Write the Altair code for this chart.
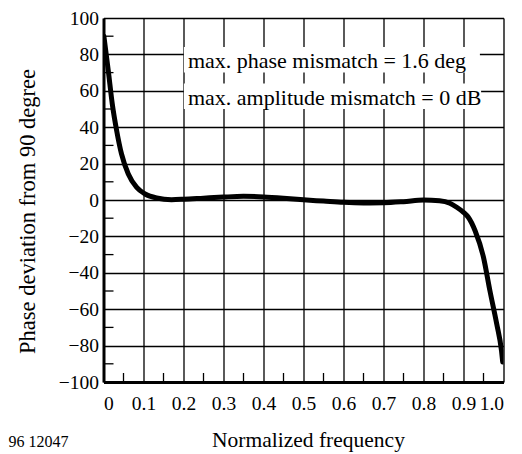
import altair as alt
import pandas as pd

# ---- data ----
freq = [0.001, 0.012, 0.022, 0.033, 0.045, 0.062, 0.083, 0.104, 0.133, 0.17,
        0.2, 0.25, 0.3, 0.35, 0.4, 0.45, 0.5, 0.55, 0.6, 0.65, 0.7, 0.75,
        0.8, 0.84, 0.866, 0.883, 0.9, 0.912, 0.929, 0.95, 0.966, 0.983,
        0.995, 0.998]
phase = [90, 71, 52.7, 38, 25.3, 14.3, 6.9, 3.3, 1.1, 0.2,
         0.4, 1.0, 1.6, 2.0, 1.7, 1.0, 0.1, -0.6, -1.3, -1.6, -1.5, -0.9,
         0.0, -0.4, -1.8, -4.0, -6.8, -9.5, -16.9, -31.5, -49.8, -68.0,
         -82.8, -89.0]

x_ticks = [0, 0.1, 0.2, 0.3, 0.4, 0.5, 0.6, 0.7, 0.8, 0.9, 1.0]
y_ticks = [-100, -80, -60, -40, -20, 0, 20, 40, 60, 80, 100]
x_minor = [0.05, 0.15, 0.25, 0.35, 0.45, 0.55, 0.65, 0.75, 0.85, 0.95]
y_minor = [-90, -70, -50, -30, -10, 10, 30, 50, 70, 90]

notes = ["max. phase mismatch = 1.6 deg", "max. amplitude mismatch = 0 dB"]
note_y = [76.5, 56.0]
box_x = [0.201, 0.201]
box_x2 = [0.941, 0.944]
box_y = [84.0, 64.0]
box_y2 = [70.0, 50.0]

x_title = "Normalized frequency"
y_title = "Phase deviation from 90 degree"
figure_id = "96 12047"

FONT = "Liberation Serif, Times New Roman, serif"
W, H = 400, 364

curve = pd.DataFrame({"f": freq, "p": phase})
xminor_df = pd.DataFrame({"f": x_minor})
yminor_df = pd.DataFrame({"p": y_minor})
notes_df = pd.DataFrame({"t": notes, "p": note_y, "x": box_x, "x2": box_x2,
                         "y": box_y, "y2": box_y2, "tx": [0.211, 0.211]})

xscale = alt.Scale(domain=[0, 1], nice=False, zero=False)
yscale = alt.Scale(domain=[-100, 100], nice=False, zero=False)

xaxis = alt.Axis(values=x_ticks, grid=True, gridColor="black", gridWidth=1.3,
                 gridOpacity=1, ticks=False, domain=True, domainColor="black",
                 domainWidth=3, labelFont=FONT, labelFontSize=19.5,
                 labelColor="black", labelPadding=12, labelOverlap=False,
                 labelExpr="datum.value == 0 ? '0' : format(datum.value, '.1f')",
                 title=x_title, titleFont=FONT, titleFontSize=21.5,
                 titleFontWeight="normal", titleColor="black",
                 titleX=204.5, titleY=58, titleBaseline="middle", titleAlign="center")
yaxis = alt.Axis(values=y_ticks, grid=True, gridColor="black", gridWidth=1.3,
                 gridOpacity=1, ticks=False, domain=True, domainColor="black",
                 domainWidth=3, labelFont=FONT, labelFontSize=19.5,
                 labelColor="black", labelPadding=5, labelOverlap=False,
                 title=y_title, titleFont=FONT, titleFontSize=22.5,
                 titleFontWeight="normal", titleColor="black",
                 titleAngle=270, titleX=-76, titleY=193,
                 titleBaseline="middle", titleAlign="center")


def X(field):
    return alt.X(field, scale=xscale, axis=xaxis, title=x_title)


def Y(field):
    return alt.Y(field, scale=yscale, axis=yaxis, title=y_title)


base_line = alt.Chart(curve).mark_line(
    color="black", strokeWidth=5, interpolate="monotone", clip=True,
    strokeCap="round"
).encode(x=X("f:Q"), y=Y("p:Q"))

xminor = alt.Chart(xminor_df).mark_rule(color="black", strokeWidth=1.3).encode(
    x=X("f:Q"),
    y=alt.value(H),
    y2=alt.value(H - 9),
)
yminor = alt.Chart(yminor_df).mark_rule(color="black", strokeWidth=1.3).encode(
    y=Y("p:Q"),
    x=alt.value(0),
    x2=alt.value(10),
)

boxes = alt.Chart(notes_df).mark_rect(color="white").encode(
    x=X("x:Q"), x2="x2:Q",
    y=Y("y:Q"), y2="y2:Q",
)
texts = alt.Chart(notes_df).mark_text(
    font=FONT, fontSize=22, color="black", align="left", baseline="middle"
).encode(
    x=X("tx:Q"),
    y=Y("p:Q"),
    text="t:N",
)

fig_label = alt.Chart(pd.DataFrame({"t": [figure_id]})).mark_text(
    font=FONT, fontSize=16, color="black", align="left", baseline="middle"
).encode(
    x=alt.value(-95),
    y=alt.value(424),
    text="t:N",
)

chart = alt.layer(
    boxes, xminor, yminor, base_line, texts, fig_label
).properties(
    width=W, height=H,
    autosize=alt.AutoSizeParams(type="none"),
    padding={"left": 95.5, "top": 10, "right": 10, "bottom": 70},
).configure_view(
    stroke="black", strokeWidth=2
).configure(background="white")

chart.save("out.html", embed_options={"renderer": "svg", "actions": False})
